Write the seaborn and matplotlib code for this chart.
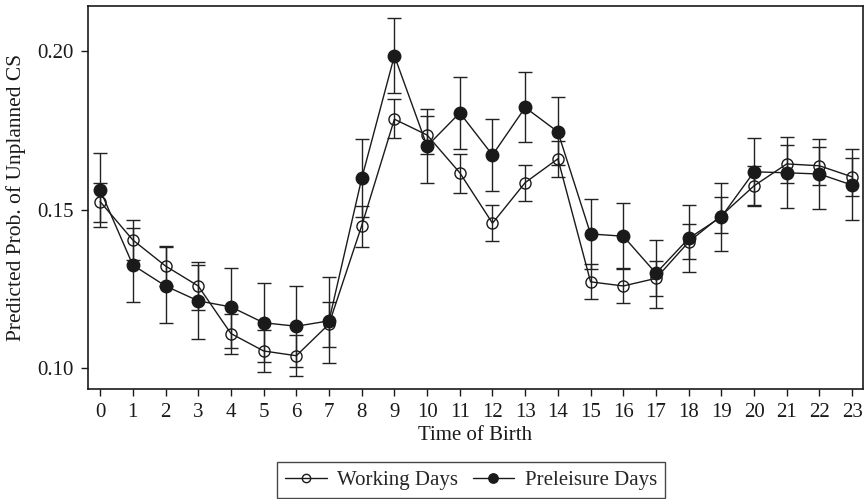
import matplotlib
matplotlib.use("Agg")
import matplotlib.pyplot as plt
import seaborn as sns
import pandas as pd

hours = list(range(24))
tick_labels = [str(h) for h in hours]

working_mean = [0.1525, 0.1404, 0.1322, 0.1259, 0.1109, 0.1054, 0.1039, 0.1139,
                0.1449, 0.1785, 0.1735, 0.1616, 0.1457, 0.1585, 0.1660, 0.1272,
                0.1259, 0.1283, 0.1398, 0.1481, 0.1575, 0.1644, 0.1638, 0.1603]
working_lo = [0.1462, 0.1341, 0.1259, 0.1183, 0.1046, 0.0988, 0.0974, 0.1067,
              0.1383, 0.1725, 0.1675, 0.1553, 0.1400, 0.1527, 0.1603, 0.1217,
              0.1204, 0.1227, 0.1343, 0.1425, 0.1514, 0.1583, 0.1577, 0.1543]
working_hi = [0.1585, 0.1467, 0.1385, 0.1335, 0.1172, 0.1120, 0.1104, 0.1207,
              0.1511, 0.1848, 0.1795, 0.1675, 0.1514, 0.1640, 0.1716, 0.1328,
              0.1315, 0.1338, 0.1454, 0.1539, 0.1636, 0.1703, 0.1696, 0.1663]

pre_mean = [0.1562, 0.1325, 0.1259, 0.1212, 0.1193, 0.1143, 0.1132, 0.1149,
            0.1598, 0.1985, 0.1700, 0.1805, 0.1672, 0.1822, 0.1745, 0.1423,
            0.1416, 0.1299, 0.1409, 0.1477, 0.1619, 0.1616, 0.1612, 0.1577]
pre_lo = [0.1446, 0.1207, 0.1141, 0.1092, 0.1062, 0.1018, 0.1005, 0.1015,
          0.1475, 0.1867, 0.1583, 0.1691, 0.1559, 0.1712, 0.1640, 0.1314,
          0.1311, 0.1191, 0.1304, 0.1370, 0.1511, 0.1505, 0.1501, 0.1467]
pre_hi = [0.1677, 0.1441, 0.1381, 0.1325, 0.1316, 0.1267, 0.1259, 0.1286,
          0.1721, 0.2103, 0.1817, 0.1919, 0.1785, 0.1933, 0.1854, 0.1532,
          0.1521, 0.1404, 0.1514, 0.1583, 0.1727, 0.1728, 0.1722, 0.1690]

y_ticks = [0.10, 0.15, 0.20]
y_tick_labels = ["0.10", "0.15", "0.20"]

sns.set_style("ticks")
plt.rcParams["font.family"] = ["Liberation Serif", "DejaVu Serif"]

fig = plt.figure(figsize=(8.64, 4.99), dpi=100)
ax = fig.add_axes([0.1015, 0.2204, 0.8973, 0.7676])

dfw = pd.DataFrame({"hour": hours, "p": working_mean})
dfp = pd.DataFrame({"hour": hours, "p": pre_mean})

for mean, lo, hi in [(working_mean, working_lo, working_hi), (pre_mean, pre_lo, pre_hi)]:
    yerr = [[m - l for m, l in zip(mean, lo)], [h - m for m, h in zip(mean, hi)]]
    ax.errorbar(hours, mean, yerr=yerr, fmt="none", ecolor="#222222",
                elinewidth=1.0, capsize=5, capthick=1.0, zorder=2)

sns.lineplot(data=dfw, x="hour", y="p", ax=ax, color="#1a1a1a", linewidth=1.0,
             marker="o", markersize=8, markerfacecolor="none",
             markeredgecolor="#1a1a1a", markeredgewidth=1.0,
             label="Working Days", zorder=3)
sns.lineplot(data=dfp, x="hour", y="p", ax=ax, color="#1a1a1a", linewidth=1.0,
             marker="o", markersize=9, markerfacecolor="#1a1a1a",
             markeredgecolor="#1a1a1a", markeredgewidth=1.0,
             label="Preleisure Days", zorder=4)

ax.set_xlim(-0.38, 23.33)
ax.set_ylim(0.0934, 0.2142)
ax.set_xticks(hours)
ax.set_xticklabels(tick_labels)
ax.set_yticks(y_ticks)
ax.set_yticklabels(y_tick_labels)
ax.tick_params(axis="both", direction="out", length=5, width=1.0,
               labelsize=15, colors="#1a1a1a", pad=5)
for s in ax.spines.values():
    s.set_visible(True)
    s.set_linewidth(1.2)
    s.set_color("#1a1a1a")

ax.set_xlabel("Time of Birth", fontsize=15, color="#1a1a1a", labelpad=3)
ax.set_ylabel("Predicted Prob. of Unplanned CS", fontsize=15.5, color="#1a1a1a", labelpad=8)

ax.get_legend().remove()
handles, labels = ax.get_legend_handles_labels()
leg = fig.legend(handles, labels, loc="upper center", bbox_to_anchor=(0.545, 0.074),
                 ncol=2, frameon=True, fancybox=False, fontsize=15,
                 handlelength=2.0, columnspacing=0.7, handletextpad=0.5,
                 borderpad=0.4, borderaxespad=0.0, markerscale=0.75)
leg.get_frame().set_edgecolor("#1a1a1a")
leg.get_frame().set_linewidth(1.0)

fig.savefig("out.png", dpi=100)
